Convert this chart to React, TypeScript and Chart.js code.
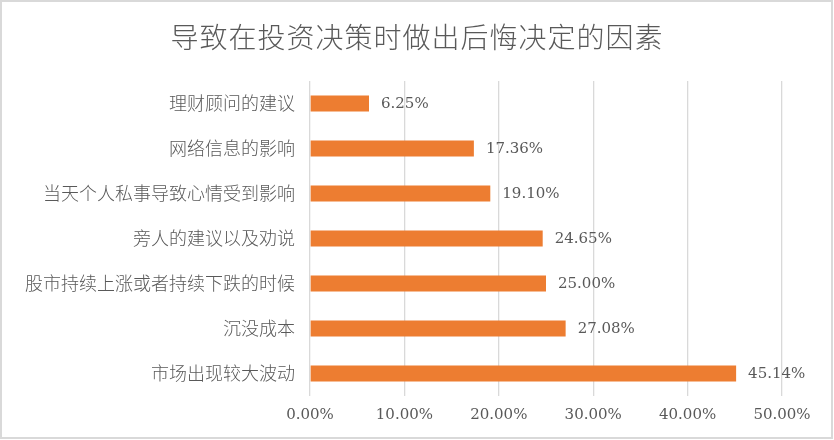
import React, { useEffect, useRef } from "react";
import { Chart, registerables } from "chart.js";

Chart.register(...registerables);

const titleText = "导致在投资决策时做出后悔决定的因素";
const categories = [
  "理财顾问的建议",
  "网络信息的影响",
  "当天个人私事导致心情受到影响",
  "旁人的建议以及劝说",
  "股市持续上涨或者持续下跌的时候",
  "沉没成本",
  "市场出现较大波动",
];
const values = [6.25, 17.36, 19.1, 24.65, 25.0, 27.08, 45.14];
const axisMin = 0;
const axisMax = 50;
const axisStep = 10;

const numFont = '"DejaVu Serif", "Noto Sans CJK SC", serif';
const cjkFont = '"Noto Sans CJK SC", sans-serif';
const textColor = "#595959";

const dataLabelPlugin = {
  id: "dataLabels",
  afterDatasetsDraw(chart: any) {
    const ctx = chart.ctx;
    const meta = chart.getDatasetMeta(0);
    ctx.save();
    ctx.font = `15px ${numFont}`;
    ctx.fillStyle = textColor;
    ctx.textAlign = "left";
    ctx.textBaseline = "middle";
    meta.data.forEach((bar: any, i: number) => {
      const v = chart.data.datasets[0].data[i] as number;
      ctx.fillText(v.toFixed(2) + "%", bar.x + 12, bar.y + 1);
    });
    ctx.restore();
  },
};

const titleAndBorderPlugin = {
  id: "titleAndBorder",
  afterDraw(chart: any) {
    const ctx = chart.ctx;
    ctx.save();
    ctx.font = `300 28px ${cjkFont}`;
    ctx.fillStyle = textColor;
    ctx.textAlign = "center";
    ctx.textBaseline = "middle";
    try {
      (ctx as any).letterSpacing = "1px";
    } catch (e) {}
    ctx.fillText(titleText, chart.width / 2, 37);
    try {
      (ctx as any).letterSpacing = "0px";
    } catch (e) {}
    ctx.strokeStyle = "#d9d9d9";
    ctx.lineWidth = 2;
    ctx.strokeRect(1, 1, chart.width - 3, chart.height - 3);
    ctx.restore();
  },
};

export default function App() {
  const ref = useRef<HTMLCanvasElement | null>(null);

  useEffect(() => {
    if (!ref.current) return;
    const chart = new Chart(ref.current, {
      type: "bar",
      data: {
        labels: categories,
        datasets: [
          {
            data: values,
            backgroundColor: "#ED7D31",
            borderWidth: 0,
            barPercentage: 0.356,
            categoryPercentage: 1,
          },
        ],
      },
      options: {
        indexAxis: "y",
        animation: false,
        responsive: false,
        maintainAspectRatio: false,
        layout: { padding: { left: 0, right: 52, top: 81, bottom: 0 } },
        plugins: {
          legend: { display: false },
          tooltip: { enabled: false },
          title: { display: false },
        },
        scales: {
          x: {
            min: axisMin,
            max: axisMax,
            ticks: {
              stepSize: axisStep,
              color: textColor,
              font: { family: numFont, size: 15 },
              padding: 10,
              callback: (v: any) => Number(v).toFixed(2) + "%",
            },
            grid: { color: "#d9d9d9", lineWidth: 1.3, drawTicks: false },
            border: { display: false },
            afterFit: (s: any) => {
              s.height = 44;
            },
          },
          y: {
            ticks: {
              color: textColor,
              font: { family: cjkFont, size: 18, weight: "300" as any },
              padding: 15,
            },
            grid: { display: false, drawTicks: false },
            border: { display: false },
            afterFit: (s: any) => {
              s.width = 310;
            },
          },
        },
      },
      plugins: [dataLabelPlugin, titleAndBorderPlugin],
    });
    return () => chart.destroy();
  }, []);

  return (
    <div
      style={{
        position: "fixed",
        left: 0,
        top: 0,
        width: 834,
        height: 440,
        background: "#fff",
      }}
    >
      <canvas ref={ref} width={834} height={440} style={{ width: 834, height: 440 }} />
    </div>
  );
}
